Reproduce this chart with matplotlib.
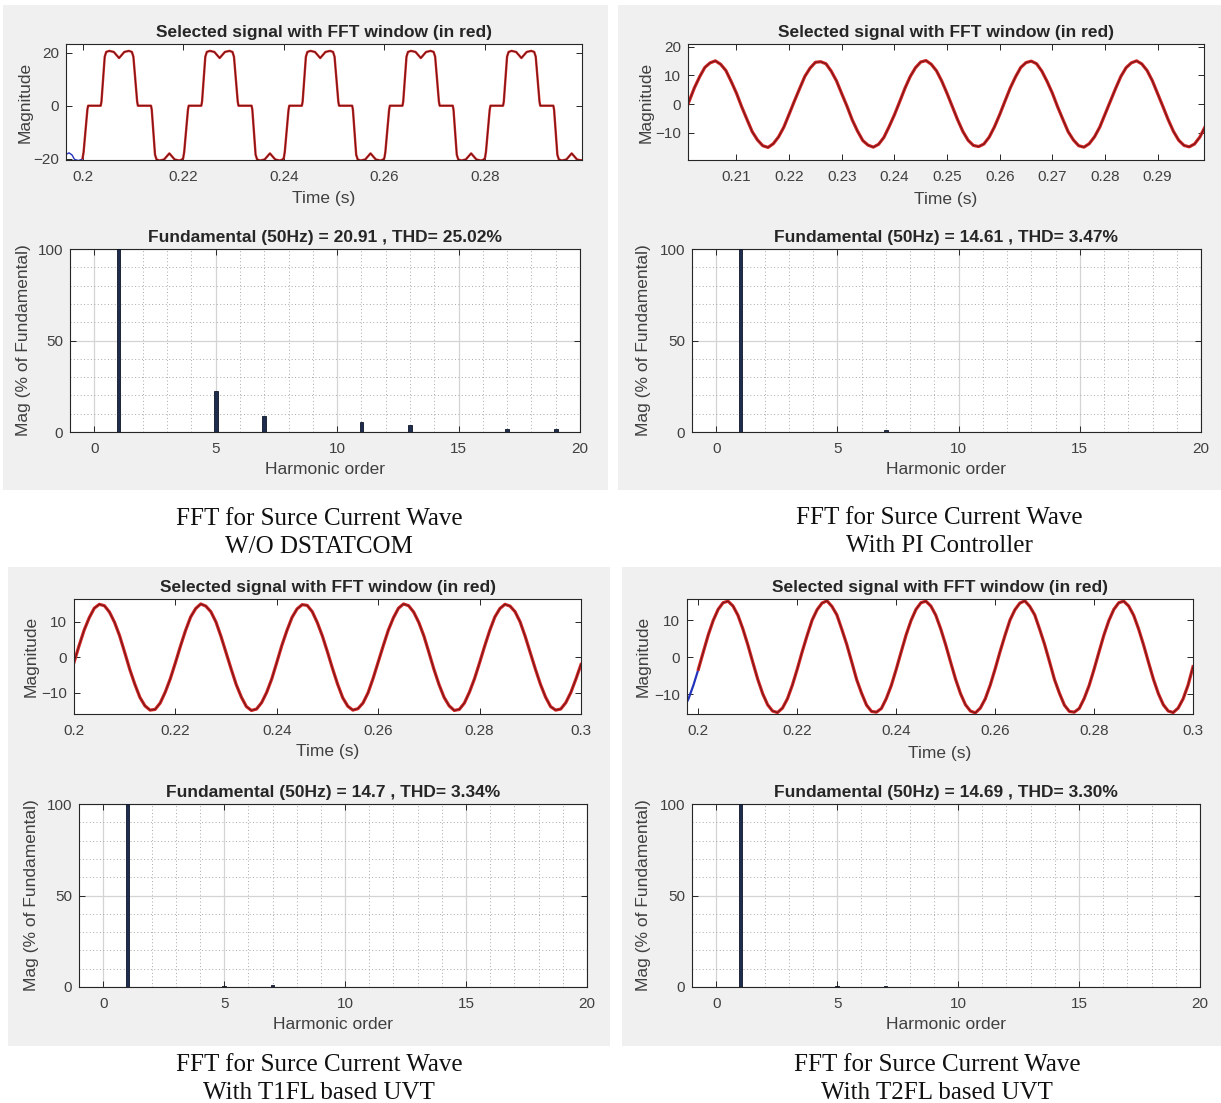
import numpy as np
import matplotlib.pyplot as plt
from matplotlib.patches import Rectangle
from matplotlib.ticker import FuncFormatter, MultipleLocator

plt.rcParams['font.family'] = ['Liberation Sans', 'DejaVu Sans']

W, H = 1221, 1103

# ---------------- data ----------------
# W/O DSTATCOM source current, time in ms
wo_blue_t = [196.7, 197.3, 197.9, 198.4, 199.2, 199.8, 200.0]
wo_blue_i = [-18.4, -17.8, -18.6, -20.3, -20.7, -20.3, -20.0]

wo_t = [200.0, 200.2, 200.95, 201.1, 203.6, 203.75, 204.4, 204.7, 205.3, 206.2, 207.25, 208.3, 209.2, 209.8,
        210.1, 210.85, 211.0, 213.6, 213.75, 214.4, 214.7, 215.3, 216.2, 217.25, 218.3, 219.2, 219.7,
        220.0, 220.2, 220.95, 221.1, 223.6, 223.75, 224.4, 224.7, 225.3, 226.2, 227.25, 228.3, 229.2, 229.8,
        230.1, 230.85, 231.0, 233.6, 233.75, 234.4, 234.7, 235.3, 236.2, 237.25, 238.3, 239.2, 239.7,
        240.0, 240.2, 240.95, 241.1, 243.6, 243.75, 244.4, 244.7, 245.3, 246.2, 247.25, 248.3, 249.2, 249.8,
        250.1, 250.85, 251.0, 253.6, 253.75, 254.4, 254.7, 255.3, 256.2, 257.25, 258.3, 259.2, 259.7,
        260.0, 260.2, 260.95, 261.1, 263.6, 263.75, 264.4, 264.7, 265.3, 266.2, 267.25, 268.3, 269.2, 269.8,
        270.1, 270.85, 271.0, 273.6, 273.75, 274.4, 274.7, 275.3, 276.2, 277.25, 278.3, 279.2, 279.7,
        280.0, 280.2, 280.95, 281.1, 283.6, 283.75, 284.4, 284.7, 285.3, 286.2, 287.25, 288.3, 289.2, 289.8,
        290.1, 290.85, 291.0, 293.6, 293.75, 294.4, 294.7, 295.3, 296.2, 297.25, 298.3, 299.2, 299.7,
        300.0]
wo_i = [-19.8, -17.5, -1.5, 0.0, 0.0, 1.5, 18.5, 20.3, 20.7, 20.3, 18.0, 20.3, 20.7, 20.3,
        18.5, 1.5, 0.0, 0.0, -1.5, -18.5, -20.3, -20.7, -20.3, -18.0, -20.3, -20.7, -20.4,
        -19.8, -17.5, -1.5, 0.0, 0.0, 1.5, 18.5, 20.3, 20.7, 20.3, 18.0, 20.3, 20.7, 20.3,
        18.5, 1.5, 0.0, 0.0, -1.5, -18.5, -20.3, -20.7, -20.3, -18.0, -20.3, -20.7, -20.4,
        -19.8, -17.5, -1.5, 0.0, 0.0, 1.5, 18.5, 20.3, 20.7, 20.3, 18.0, 20.3, 20.7, 20.3,
        18.5, 1.5, 0.0, 0.0, -1.5, -18.5, -20.3, -20.7, -20.3, -18.0, -20.3, -20.7, -20.4,
        -19.8, -17.5, -1.5, 0.0, 0.0, 1.5, 18.5, 20.3, 20.7, 20.3, 18.0, 20.3, 20.7, 20.3,
        18.5, 1.5, 0.0, 0.0, -1.5, -18.5, -20.3, -20.7, -20.3, -18.0, -20.3, -20.7, -20.4,
        -19.8, -17.5, -1.5, 0.0, 0.0, 1.5, 18.5, 20.3, 20.7, 20.3, 18.0, 20.3, 20.7, 20.3,
        18.5, 1.5, 0.0, 0.0, -1.5, -18.5, -20.3, -20.7, -20.3, -18.0, -20.3, -20.7, -20.4,
        -19.8]

# sampled every 1 ms
pi_t = list(range(200, 300))
pi_i = [-3.7, 0.9, 5.6, 9.5, 12.8, 14.4, 15.1, 13.9, 11.7, 7.9, 3.8, -1.0, -5.4, -9.7, -12.6, -14.6, -15.2, -13.9, -11.5, -8.1,
        -3.6, 1.0, 5.4, 9.7, 12.6, 14.6, 14.8, 14.1, 11.5, 8.1, 3.6, -0.8, -5.6, -9.5, -12.8, -14.4, -15.1, -14.1, -11.7, -7.9,
        -3.8, 0.8, 5.5, 9.6, 12.7, 14.7, 15.2, 13.9, 11.6, 8.0, 3.7, -0.9, -5.5, -9.6, -12.7, -14.5, -14.9, -14.0, -11.6, -8.0,
        -3.7, 1.0, 5.6, 9.5, 12.8, 14.5, 15.0, 14.1, 11.5, 7.9, 3.8, -1.0, -5.4, -9.7, -12.6, -14.6, -15.1, -13.9, -11.5, -8.1,
        -3.6, 0.9, 5.4, 9.6, 12.7, 14.4, 15.1, 14.0, 11.7, 8.1, 3.6, -0.9, -5.5, -9.6, -12.7, -14.5, -15.0, -14.0, -11.6, -8.0]

t1_t = list(range(200, 301))
t1_i = [-1.4, 3.3, 7.7, 11.2, 13.9, 15.0, 14.6, 12.8, 9.9, 6.1, 1.4, -3.4, -7.6, -11.3, -13.7, -14.9, -14.7, -12.9, -9.8, -6.0,
        -1.5, 3.2, 7.6, 11.4, 13.8, 15.1, 14.5, 12.9, 10.0, 5.9, 1.3, -3.3, -7.7, -11.2, -13.9, -15.0, -14.6, -12.8, -9.9, -6.1,
        -1.4, 3.4, 7.6, 11.3, 13.7, 14.9, 14.7, 12.9, 9.8, 6.0, 1.5, -3.2, -7.6, -11.4, -13.8, -14.9, -14.5, -12.9, -10.0, -5.9,
        -1.3, 3.3, 7.7, 11.2, 13.9, 15.1, 14.6, 12.8, 9.9, 6.1, 1.4, -3.4, -7.7, -11.3, -13.7, -15.0, -14.7, -12.9, -9.8, -6.0,
        -1.5, 3.2, 7.6, 11.4, 13.8, 15.0, 14.5, 12.9, 10.0, 5.9, 1.3, -3.3, -7.6, -11.2, -13.9, -14.9, -14.6, -12.8, -9.9, -6.1,
        -2.0]

t2_blue_t = [197.7, 198.0, 199.0, 200.0]
t2_blue_i = [-12.1, -11.3, -7.6, -3.3]
t2_t = list(range(200, 301))
t2_i = [-3.3, 1.4, 6.0, 9.9, 12.9, 14.7, 15.1, 13.8, 11.3, 7.6, 3.3, -1.4, -6.0, -9.9, -12.9, -14.6, -15.0, -13.8, -11.3, -7.6,
        -3.2, 1.5, 5.9, 10.0, 12.8, 14.6, 15.2, 13.7, 11.4, 7.5, 3.4, -1.3, -6.1, -9.8, -13.0, -14.7, -14.9, -13.9, -11.2, -7.7,
        -3.3, 1.4, 6.0, 9.9, 12.9, 14.7, 15.1, 13.8, 11.3, 7.6, 3.3, -1.4, -6.0, -9.9, -12.9, -14.6, -15.1, -13.8, -11.3, -7.6,
        -3.2, 1.5, 5.9, 10.0, 12.8, 14.6, 15.2, 13.7, 11.4, 7.5, 3.4, -1.3, -6.1, -9.8, -13.0, -14.7, -14.9, -13.9, -11.2, -7.7,
        -3.3, 1.4, 6.0, 9.9, 12.9, 14.7, 15.1, 13.8, 11.3, 7.6, 3.3, -1.4, -6.0, -9.9, -12.9, -14.6, -15.0, -13.8, -11.3, -7.6,
        -2.6]

# harmonic spectra (% of fundamental)
harm_order = [1, 5, 7, 11, 13, 17, 19]
wo_mag = [100, 22.2, 8.9, 5.3, 3.6, 1.8, 1.6]
pi_mag = [100, 0.2, 1.0, 0.1, 0.1, 0.1, 0.1]
t1_mag = [100, 0.7, 0.9, 0.1, 0.1, 0.1, 0.1]
t2_mag = [100, 0.8, 0.3, 0.1, 0.1, 0.1, 0.1]

fft_titles = ['Fundamental (50Hz) = 20.91 , THD= 25.02%',
              'Fundamental (50Hz) = 14.61 , THD= 3.47%',
              'Fundamental (50Hz) = 14.7 , THD= 3.34%',
              'Fundamental (50Hz) = 14.69 , THD= 3.30%']
captions = [('FFT for Surce Current Wave', 'W/O DSTATCOM'),
            ('FFT for Surce Current Wave', 'With PI Controller'),
            ('FFT for Surce Current Wave', 'With T1FL based UVT'),
            ('FFT for Surce Current Wave', 'With T2FL based UVT')]

TXT = '#262626'
GREY = '#f0f0f0'


def px_rect(x0, y0, x1, y1):
    return [x0 / W, 1 - y1 / H, (x1 - x0) / W, (y1 - y0) / H]


fig = plt.figure(figsize=(W / 100, H / 100), dpi=100)
fig.patch.set_facecolor('white')

# grey matlab panels
for x0, y0, x1, y1 in [(3, 5, 608, 490), (618, 5, 1221, 490), (8, 567, 610, 1046), (622, 567, 1221, 1046)]:
    fig.patches.append(Rectangle((x0 / W, 1 - y1 / H), (x1 - x0) / W, (y1 - y0) / H,
                                 transform=fig.transFigure, facecolor=GREY, edgecolor='none', zorder=-10))


def style_axes(ax):
    for s in ax.spines.values():
        s.set_color(TXT)
        s.set_linewidth(0.8)
    ax.tick_params(direction='in', top=True, right=True, length=4, width=0.7, colors=TXT,
                   labelsize=11, labelcolor='#404040')
    ax.tick_params(axis='x', pad=7)
    ax.tick_params(axis='y', pad=5)
    ax.tick_params(which='minor', length=0)


def signal_panel(rect, t_red, i_red, t_blue, i_blue, xlim, ylim, xticks, yticks, ylab_x, xlab_y, lw):
    ax = fig.add_axes(rect)
    ax.set_facecolor('white')
    if t_blue:
        ax.plot(np.array(t_blue) / 1000, i_blue, color='#2233bb', lw=lw)
    t = np.array(t_red) / 1000
    ax.plot(t, i_red, color='#d42626', lw=lw + 0.7, solid_joinstyle='round')
    ax.plot(t, i_red, color='#6a1616', lw=0.7)
    ax.set_xlim(*xlim)
    ax.set_ylim(*ylim)
    ax.set_xticks(xticks)
    ax.set_yticks(yticks)
    ax.xaxis.set_major_formatter(FuncFormatter(lambda v, p: '%g' % round(v, 3)))
    style_axes(ax)
    ax.set_title('Selected signal with FFT window (in red)', fontsize=12.5, fontweight='bold', color=TXT, pad=5)
    ax.set_xlabel('Time (s)', fontsize=12.5, color='#404040')
    ax.set_ylabel('Magnitude', fontsize=12.5, color='#404040')
    ax.xaxis.set_label_coords(0.5, xlab_y)
    ax.xaxis.label.set_verticalalignment('center')
    ax.yaxis.set_label_coords(ylab_x, 0.5)
    ax.yaxis.label.set_verticalalignment('center')
    return ax


def bar_panel(rect, mags, title, ylab_x):
    ax = fig.add_axes(rect)
    ax.set_facecolor('white')
    ax.bar(harm_order, mags, width=0.15, color='#1e2d4d', edgecolor='#0d1526', linewidth=0.6, zorder=3)
    ax.set_xlim(-1, 20)
    ax.set_ylim(0, 100)
    ax.set_xticks([0, 5, 10, 15, 20])
    ax.set_yticks([0, 50, 100])
    ax.xaxis.set_minor_locator(MultipleLocator(1))
    ax.yaxis.set_minor_locator(MultipleLocator(10))
    ax.grid(True, which='major', color='#d4d4d4', lw=0.9, zorder=0)
    ax.grid(True, which='minor', color='#a8a8a8', lw=0.7, linestyle=(0, (1, 2.5)), zorder=0)
    ax.set_axisbelow(True)
    style_axes(ax)
    ax.set_title(title, fontsize=12.5, fontweight='bold', color=TXT, pad=5)
    ax.set_xlabel('Harmonic order', fontsize=12.5, color='#404040')
    ax.set_ylabel('Mag (% of Fundamental)', fontsize=12.5, color='#404040')
    ax.xaxis.set_label_coords(0.5, -0.206)
    ax.xaxis.label.set_verticalalignment('center')
    ax.yaxis.set_label_coords(ylab_x, 0.5)
    ax.yaxis.label.set_verticalalignment('center')
    return ax


# top-left: W/O DSTATCOM
signal_panel(px_rect(66, 44, 582, 160), wo_t, wo_i, wo_blue_t, wo_blue_i,
             (0.1967, 0.2993), (-20.5, 23.3), [0.2, 0.22, 0.24, 0.26, 0.28], [-20, 0, 20], -0.08, -0.33, 1.0)
bar_panel(px_rect(70, 249, 580, 432), wo_mag, fft_titles[0], -0.092)

# top-right: PI controller
signal_panel(px_rect(688, 44, 1204, 160), pi_t, pi_i, None, None,
             (0.2008, 0.2988), (-19.6, 21.0), [0.21, 0.22, 0.23, 0.24, 0.25, 0.26, 0.27, 0.28, 0.29],
             [-10, 0, 10, 20], -0.082, -0.34, 1.6)
bar_panel(px_rect(692, 249, 1201, 432), pi_mag, fft_titles[1], -0.095)

# bottom-left: T1FL
signal_panel(px_rect(74, 599, 581, 714), t1_t, t1_i, None, None,
             (0.2, 0.3), (-16.0, 16.5), [0.2, 0.22, 0.24, 0.26, 0.28, 0.3], [-10, 0, 10], -0.085, -0.33, 1.6)
bar_panel(px_rect(79, 804, 587, 987), t1_mag, fft_titles[2], -0.094)

# bottom-right: T2FL
signal_panel(px_rect(687, 599, 1193, 714), t2_t, t2_i, t2_blue_t, t2_blue_i,
             (0.1977, 0.3), (-15.4, 15.7), [0.2, 0.22, 0.24, 0.26, 0.28, 0.3], [-10, 0, 10], -0.087, -0.34, 1.6)
bar_panel(px_rect(692, 804, 1200, 987), t2_mag, fft_titles[3], -0.096)

# captions below each panel
for (cx, cy), (l1, l2) in zip([(319, 519), (939, 518), (319, 1065), (937, 1065)], captions):
    fig.text(cx / W, 1 - cy / H, l1, ha='center', va='center', fontsize=18, family='Liberation Serif', color='#111111')
    fig.text(cx / W, 1 - (cy + 28) / H, l2, ha='center', va='center', fontsize=18, family='Liberation Serif', color='#111111')

fig.savefig('out.png', dpi=100, facecolor='white')
